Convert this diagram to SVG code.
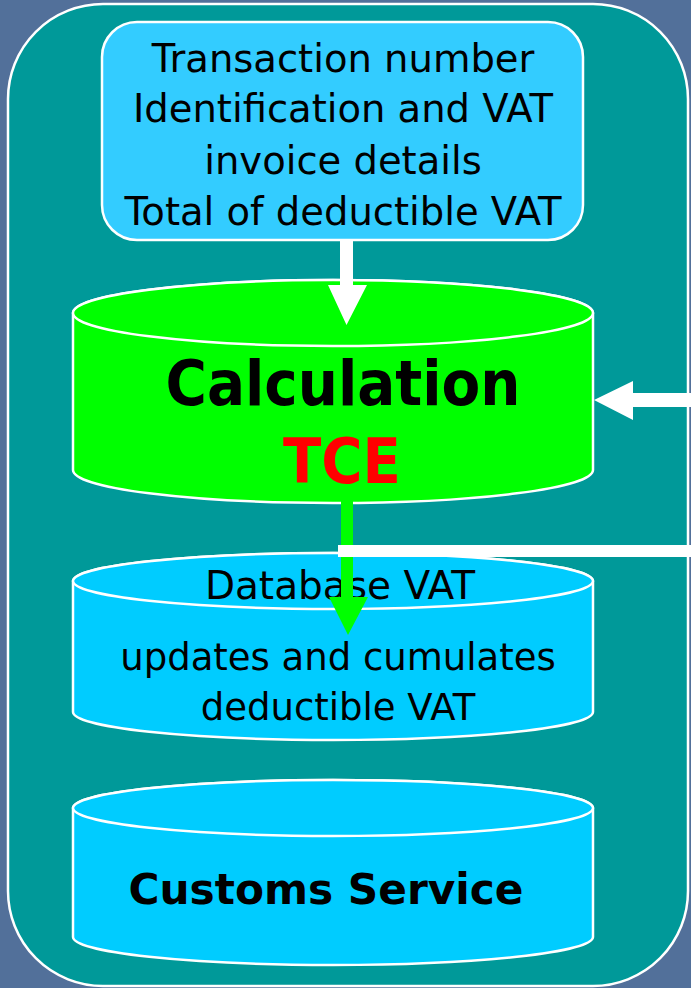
<svg xmlns="http://www.w3.org/2000/svg" width="691" height="988" viewBox="0 0 691 988">
<style>
.edge{stroke:#FFFFFF;stroke-width:2.5}
.t{font-family:"DejaVu Sans","Liberation Sans",sans-serif;text-anchor:middle;fill:#000}
.b{font-weight:bold}
</style>
<rect x="0" y="0" width="691" height="988" fill="#52709A"/>
<g id="container">
<rect x="8" y="4" width="680" height="982" rx="95" ry="95" fill="#009999" class="edge"/>
</g>
<g id="input-box">
<rect x="102" y="22" width="481" height="218" rx="35" ry="35" fill="#33CCFF" class="edge"/>
<text class="t" font-size="38.5" x="343" y="72">Transaction number</text>
<text class="t" font-size="38.5" x="343" y="122">Identification and VAT</text>
<text class="t" font-size="38.5" x="343" y="174">invoice details</text>
<text class="t" font-size="38.5" x="343" y="225">Total of deductible VAT</text>
</g>
<g id="calculation">
<path d="M73,313 L73,470 A260,33 0 0 0 593,470 L593,313 A260,33 0 0 0 73,313 Z" fill="#00FF00" class="edge"/>
<ellipse cx="333" cy="313" rx="260" ry="33" fill="#00FF00" class="edge"/>
<text class="t b" font-size="62" x="343" y="405" textLength="355" lengthAdjust="spacingAndGlyphs">Calculation</text>
<text class="t b" font-size="62" x="342" y="483" style="fill:#FF0000" textLength="118" lengthAdjust="spacingAndGlyphs">TCE</text>
</g>
<g id="database">
<path d="M73,581 L73,712 A260,28 0 0 0 593,712 L593,581 A260,28 0 0 0 73,581 Z" fill="#00CCFF" class="edge"/>
<ellipse cx="333" cy="581" rx="260" ry="28" fill="#00CCFF" class="edge"/>
<text class="t" font-size="39" x="340" y="599">Database VAT</text>
<text class="t" font-size="37" x="338" y="670">updates and cumulates</text>
<text class="t" font-size="37" x="338" y="720">deductible VAT</text>
</g>
<g id="customs">
<path d="M73,808 L73,937 A260,28 0 0 0 593,937 L593,808 A260,28 0 0 0 73,808 Z" fill="#00CCFF" class="edge"/>
<ellipse cx="333" cy="808" rx="260" ry="28" fill="#00CCFF" class="edge"/>
<text class="t b" font-size="43" x="326" y="904" textLength="395" lengthAdjust="spacingAndGlyphs">Customs Service</text>
</g>
<g id="connectors">
<polygon points="340,240 353,240 353,285 367,285 346.5,325 328,285 340,285" fill="#FFFFFF"/>
<polygon points="691,393 633,393 633,381 594,400 633,420 633,407 691,407" fill="#FFFFFF"/>
<polygon points="341,492 353,492 353,597 368,597 348,635 329,597 341,597" fill="#00FF00"/>
<rect x="338" y="545" width="353" height="12" fill="#FFFFFF"/>
</g>
</svg>
